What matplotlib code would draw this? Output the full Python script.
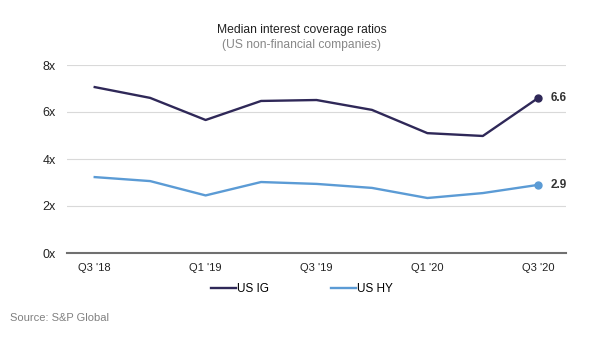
import matplotlib
matplotlib.use('Agg')
import matplotlib.pyplot as plt

plt.rcParams['font.family'] = ['Liberation Sans', 'DejaVu Sans']

quarters = ["Q3 '18", "Q4 '18", "Q1 '19", "Q2 '19", "Q3 '19", "Q4 '19", "Q1 '20", "Q2 '20", "Q3 '20"]
us_ig = [7.06, 6.6, 5.66, 6.47, 6.51, 6.09, 5.1, 4.98, 6.6]
us_hy = [3.23, 3.06, 2.45, 3.02, 2.94, 2.77, 2.34, 2.55, 2.9]
yticks = [0, 2, 4, 6, 8]

ig_color = '#2f2858'
hy_color = '#5b9bd5'

fig = plt.figure(figsize=(6.04, 3.42), dpi=100)
ax = fig.add_axes([67 / 604, 1 - 253 / 342, (566 - 67) / 604, (253 - 65) / 342])

x = list(range(len(quarters)))
ax.plot(x, us_ig, color=ig_color, lw=1.7, label='US IG')
ax.plot(x, us_hy, color=hy_color, lw=1.7, label='US HY')
ax.plot(x[-1], us_ig[-1], 'o', color=ig_color, ms=5)
ax.plot(x[-1], us_hy[-1], 'o', color=hy_color, ms=5)
ax.annotate(f'{us_ig[-1]:.1f}', (x[-1], us_ig[-1]), xytext=(9, 0), textcoords='offset points',
            va='center', fontsize=8.5, fontweight='bold', color='#333333')
ax.annotate(f'{us_hy[-1]:.1f}', (x[-1], us_hy[-1]), xytext=(9, 0), textcoords='offset points',
            va='center', fontsize=8.5, fontweight='bold', color='#333333')

ax.set_xlim(-0.5, len(quarters) - 0.5)
ax.set_ylim(0, 8)
ax.set_yticks(yticks)
ax.set_yticklabels([f'{t}x' for t in yticks])
ax.set_xticks(x[::2])
ax.set_xticklabels(quarters[::2])
ax.tick_params(length=0, colors='#222222')
ax.tick_params(axis='y', pad=8, labelsize=9)
ax.tick_params(axis='x', pad=7, labelsize=8)
ax.grid(axis='y', color='#d9d9d9', lw=0.8)
ax.set_axisbelow(True)
for s in ['top', 'right', 'left']:
    ax.spines[s].set_visible(False)
ax.spines['bottom'].set_color('#707070')
ax.spines['bottom'].set_linewidth(1.5)

fig.text(0.5, 1 - 30 / 342, 'Median interest coverage ratios', ha='center', va='center',
         fontsize=8.7, color='#222222')
fig.text(0.5, 1 - 45 / 342, '(US non-financial companies)', ha='center', va='center',
         fontsize=8.7, color='#888888')

fig.legend(loc='center', bbox_to_anchor=(0.5, 1 - 289 / 342), ncol=2, frameon=False,
           fontsize=8.5, handlelength=2.1, handletextpad=0.1, columnspacing=5.3)

fig.text(10 / 604, 1 - 318 / 342, 'Source: S&P Global', ha='left', va='center',
         fontsize=8, color='#808080')

fig.savefig('out.png', dpi=100)
